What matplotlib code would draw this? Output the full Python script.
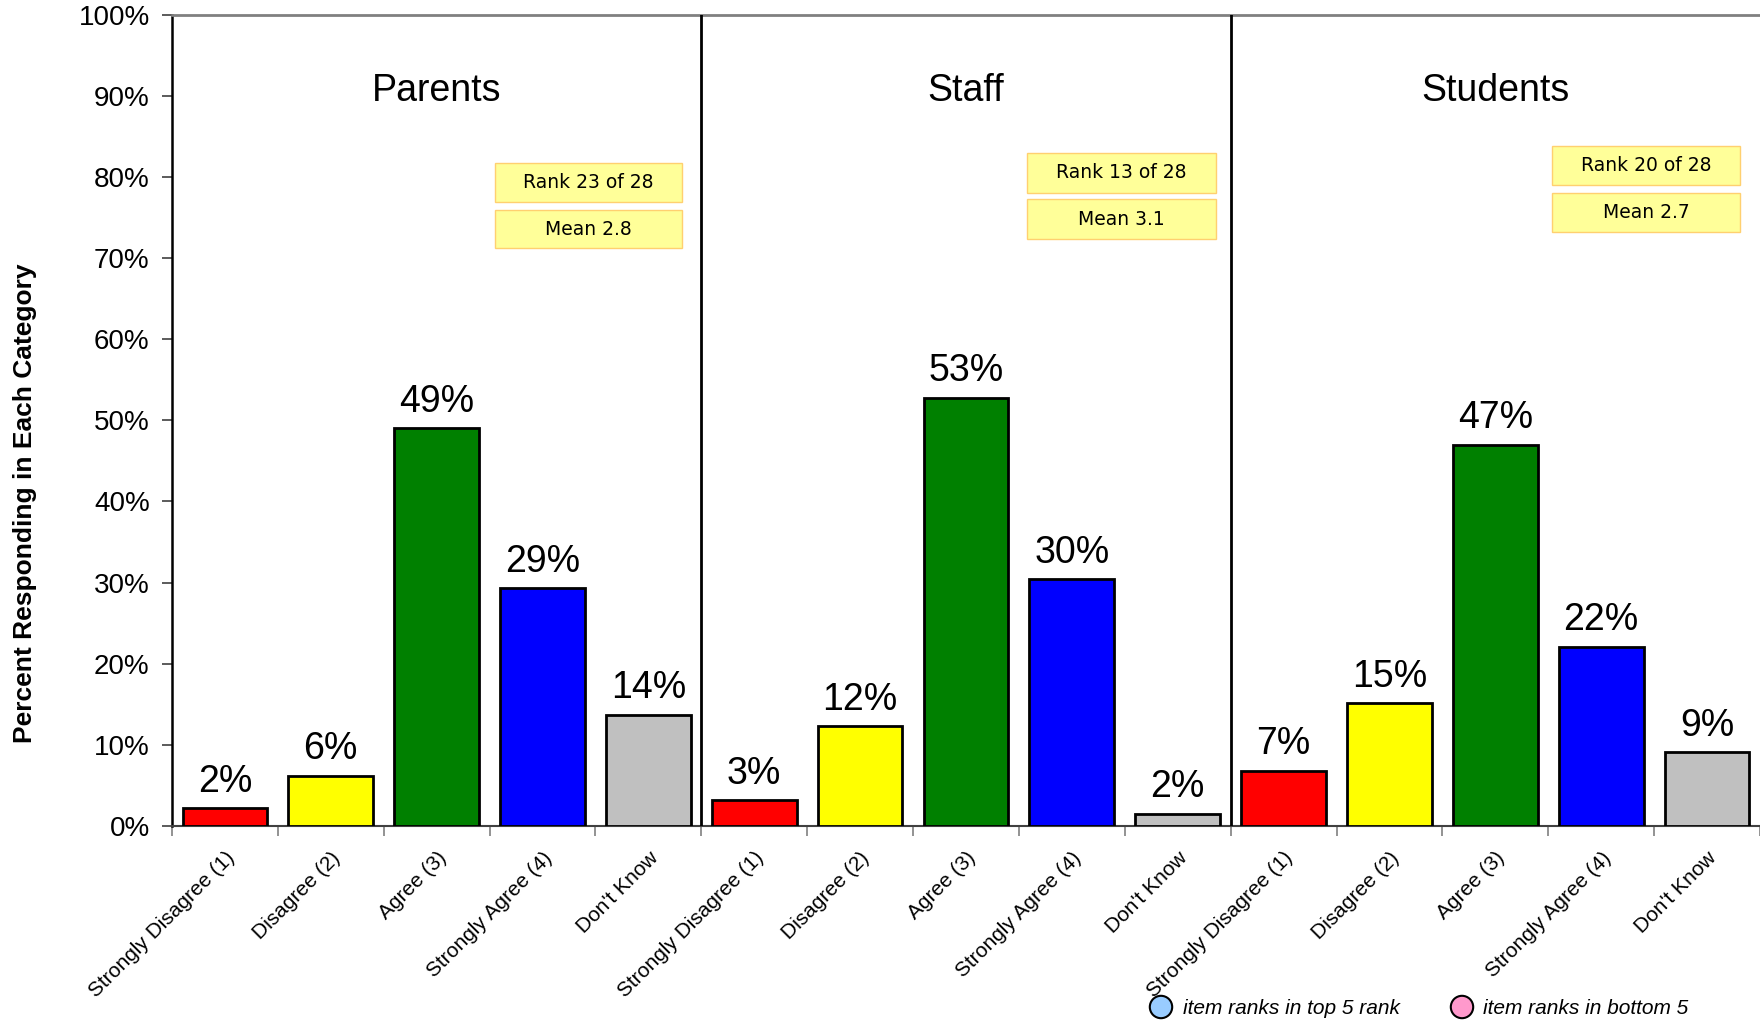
import numpy as np
import matplotlib
matplotlib.use("Agg")
from matplotlib import pyplot as plt
from matplotlib.patches import Rectangle
from matplotlib.transforms import ScaledTranslation

plt.rcParams['font.family'] = ['Liberation Sans', 'DejaVu Sans']

# data
groups = ["Parents", "Staff", "Students"]
categories = ["Strongly Disagree (1)", "Disagree (2)", "Agree (3)",
              "Strongly Agree (4)", "Don't Know"]
parents = [2.2, 6.2, 49.0, 29.3, 13.7]
staff = [3.2, 12.3, 52.8, 30.4, 1.5]
students = [6.8, 15.1, 47.0, 22.1, 9.1]
parents_lbl = ["2%", "6%", "49%", "29%", "14%"]
staff_lbl = ["3%", "12%", "53%", "30%", "2%"]
students_lbl = ["7%", "15%", "47%", "22%", "9%"]
ranks = ["Rank 23 of 28", "Rank 13 of 28", "Rank 20 of 28"]
means = ["Mean 2.8", "Mean 3.1", "Mean 2.7"]
bar_colors = ["#FF0000", "#FFFF00", "#008000", "#0000FF", "#C0C0C0"]

fig = plt.figure(figsize=(17.6, 10.24), dpi=100)
ax = fig.add_axes([0.0977, 0.1934, 0.9023, 0.7923])

values = parents + staff + students
labels = parents_lbl + staff_lbl + students_lbl
n = len(values)
centers = np.arange(n) + 0.5
ax.bar(centers, values, width=0.8, color=bar_colors * 3,
       edgecolor="black", linewidth=2, zorder=3)
for x, v, l in zip(centers, values, labels):
    ax.annotate(l, (x, v), xytext=(0, 6), textcoords="offset points",
                ha="center", va="bottom", fontsize=27)

ax.set_xlim(0, n)
ax.set_ylim(0, 100)
ax.set_yticks(np.arange(0, 101, 10))
ax.set_yticklabels([f"{t}%" for t in range(0, 101, 10)], fontsize=20)
ax.set_xticks(centers)
ax.set_xticklabels(categories * 3, rotation=45, ha="right",
                   rotation_mode="anchor", fontsize=15)
# nudge the slanted labels so their ends sit under the bar centres
shift = ScaledTranslation(-14 / 100, 0, fig.dpi_scale_trans)
for t in ax.get_xticklabels():
    t.set_transform(t.get_transform() + shift)
ax.tick_params(axis="x", which="major", length=0, pad=16)
ax.set_xticks(np.arange(0, n + 1), minor=True)
ax.tick_params(axis="x", which="minor", length=7, color="#808080", width=1.2)
ax.tick_params(axis="y", length=7, width=1.2, color="#404040", pad=9)

ax.spines["right"].set_visible(False)
ax.spines["top"].set_color("#808080")
ax.spines["top"].set_linewidth(2)
ax.spines["left"].set_linewidth(1.8)
ax.spines["bottom"].set_color("#404040")
ax.spines["bottom"].set_linewidth(1.5)

for d in [5, 10]:
    ax.axvline(d, color="black", lw=2, zorder=4)

fig.text(25 / 1760, 1 - 503 / 1024, "Percent Responding in Each Category",
         rotation=90, ha="center", va="center", fontsize=19, fontweight="bold")

# group titles and rank/mean boxes
box_x = [(3.05, 4.82), (8.08, 9.86), (13.04, 14.81)]
rank_y = [(76.9, 81.7), (78.0, 83.0), (79.0, 83.8)]
mean_y = [(71.2, 75.9), (72.3, 77.3), (73.2, 78.0)]
for i, g in enumerate(groups):
    ax.text(i * 5 + 2.5, 90.6, g, ha="center", va="center", fontsize=27)
    for (y0, y1), txt in [(rank_y[i], ranks[i]), (mean_y[i], means[i])]:
        x0, x1 = box_x[i]
        ax.add_patch(Rectangle((x0, y0), x1 - x0, y1 - y0, facecolor="#FFFF99",
                               edgecolor="#FFD070", lw=1, zorder=5))
        ax.text((x0 + x1) / 2, (y0 + y1) / 2, txt, ha="center", va="center",
                fontsize=13.5, family=["DejaVu Sans"], zorder=6)

# legend at the bottom
ax_leg = fig.add_axes([0, 0, 1, 1], facecolor="none")
ax_leg.set_xlim(0, 1760)
ax_leg.set_ylim(1024, 0)
ax_leg.axis("off")
ax_leg.scatter([1161, 1462], [1007, 1007], s=260, c=["#99CCFF", "#FF99CC"],
               edgecolors="black", linewidths=1.5)
ax_leg.text(1183, 1008, "item ranks in top 5 rank", style="italic",
            fontsize=15, va="center")
ax_leg.text(1483, 1008, "item ranks in bottom 5", style="italic",
            fontsize=15, va="center")

fig.savefig("out.png", dpi=100)
